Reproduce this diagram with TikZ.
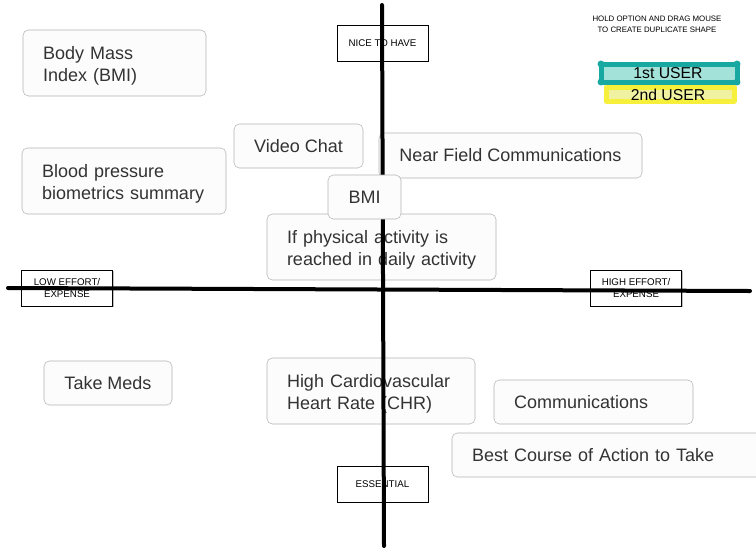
\documentclass[tikz,border=0pt]{standalone}
\usepackage{fontspec}
\setmainfont{Liberation Sans}
\usetikzlibrary{shadows}
\definecolor{cardline}{HTML}{B4B4B4}
\definecolor{cardfill}{HTML}{FCFCFC}
\definecolor{cardtext}{HTML}{333333}
\definecolor{teal1}{HTML}{17A9A1}
\definecolor{teal2}{HTML}{A3E2D9}
\definecolor{yel1}{HTML}{F6EF3C}
\definecolor{yel2}{HTML}{F1F1A2}

\begin{document}
\begin{tikzpicture}[x=0.75pt, y=-0.75pt,
  card/.style={draw=cardline, fill=cardfill, rounded corners=4pt, text=cardtext,
    font=\fontsize{13.5}{16.5}\selectfont, inner sep=0pt, align=left},
  twoline/.style={text height=12pt, text depth=16.9pt},
  tag/.style={draw=black, fill=white, font=\fontsize{7.3}{9}\selectfont, align=center,
    minimum width=68.25pt, minimum height=27pt, inner sep=0pt,
    drop shadow={shadow xshift=1pt, shadow yshift=-1pt, opacity=0.25, fill=black}},
  axis/.style={line width=3pt, line cap=round},
  marker/.style={line width=3.75pt, line cap=round, line join=round}]
\clip (0,0) rectangle (756,554);
\fill[white] (0,0) rectangle (756,554);

% cards, upper left
\node[card, twoline, minimum width=137.25pt, minimum height=49.5pt, text width=107.25pt] (bodymass) at (114.5,63) {Body Mass\\Index (BMI)};
\node[card, twoline, minimum width=153pt, minimum height=49.5pt, text width=123pt] (bloodpressure) at (124,181) {Blood pressure\\\mbox{biometrics summary}};
\node[card, minimum width=96.75pt, minimum height=33pt] (videochat) at (298.5,146) {Video Chat};
\node[card, minimum width=197.25pt, minimum height=33.75pt] (nearfield) at (510.5,155.5) {Near Field Communications};
\node[card, twoline, minimum width=171.75pt, minimum height=49.5pt, text width=141.75pt] (physical) at (381.5,247) {If physical activity is\\\mbox{reached in daily activity}};

% cards, lower half
\node[card, minimum width=96pt, minimum height=33pt] (takemeds) at (108,383) {Take Meds};
\node[card, twoline, minimum width=156pt, minimum height=49.5pt, text width=126pt] (cardio) at (371,391) {\mbox{High Cardiovascular}\\Heart Rate (CHR)};
\node[card, minimum width=149.25pt, minimum height=33pt, text width=119.25pt] (comms) at (593.5,402) {Communications};
\node[card, minimum width=238.5pt, minimum height=33pt, text width=208.5pt] (bestcourse) at (611,455) {Best Course of Action to Take};

% axis labels
\node[tag] (nice) at (382.5,43) {NICE TO HAVE};
\node[tag] (low) at (67,288) {LOW EFFORT/\\EXPENSE};
\node[tag] (high) at (636,288) {HIGH EFFORT/\\EXPENSE};
\node[tag] (essential) at (382.5,484) {ESSENTIAL};

% axes
\coordinate (west) at (8,288);
\coordinate (east) at (750,291);
\coordinate (north) at (382,5);
\coordinate (south) at (384,546);
\draw[axis] (west) -- (east);
\draw[axis] (north) -- (south);

% sits on top of the axis
\node[card, minimum width=54.75pt, minimum height=33pt] (bmi) at (364.5,197) {BMI};

% legend
\node[font=\fontsize{5.9}{8.25}\selectfont, align=center] (hint) at (657,24.5) {HOLD OPTION AND DRAG MOUSE\\TO CREATE DUPLICATE SHAPE};
\draw[marker, draw=yel1, fill=yel2] (606,87) rectangle (734,101);
\node[font=\fontsize{11.8}{14}\selectfont] (second) at (668,95) {2nd USER};
\draw[marker, draw=teal1, fill=teal2] (601,64) rectangle (737,82);
\foreach \cx/\cy in {601/64, 737/64, 601/82, 737/82}
  \fill[teal1] (\cx,\cy) circle (2.6pt);
\node[font=\fontsize{11.8}{14}\selectfont] (first) at (668,73) {1st USER};
\end{tikzpicture}
\end{document}
